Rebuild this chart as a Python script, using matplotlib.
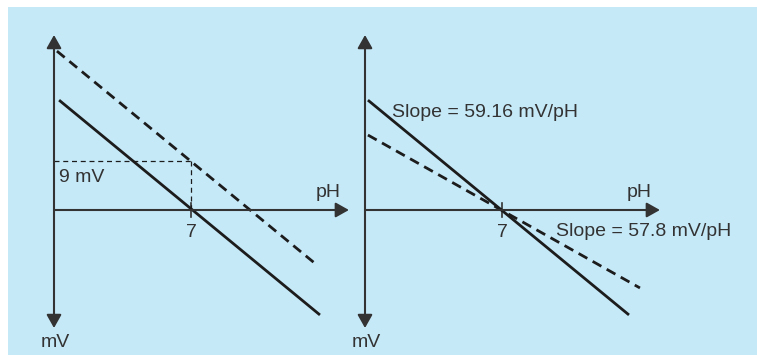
import matplotlib
matplotlib.use("Agg")
import matplotlib.pyplot as plt
from matplotlib.patches import Rectangle

plt.rcParams['font.family'] = ['Liberation Sans', 'DejaVu Sans']
fs = 14

# ---------------- data (schematic, pH vs mV) ----------------
ph_iso = 7.0                 # isopotential point / tick
axis_ph_end = 15.07          # end of pH arrow
axis_mv_top = 642            # top of mV arrow
axis_mv_bottom = -433        # bottom of mV arrow

# Left panel: offset (asymmetry) of 9 mV
left_ph = [0.26, 13.59]
left_solid_mv = [403, -385]
left_dash_ph = [0.15, 13.44]
left_dash_mv = [583, -202]
offset_mv = 180              # schematic height of the offset marker
offset_label = "9 mV"

# Right panel: slope change
right_solid_ph = [0.15, 13.49]
right_solid_mv = [403, -385]
right_dash_ph = [0.15, 14.05]
right_dash_mv = [275, -286]
slope_labels = ["Slope = 59.16 mV/pH", "Slope = 57.8 mV/pH"]

xlim = (-0.8, 15.5)
ylim = (-520, 680)

W, H = 757, 356
fig = plt.figure(figsize=(W / 100, H / 100), dpi=100)
fig.patch.set_facecolor('white')
bg = '#c6e9f8'
fig.patches.append(Rectangle((8 / W, 1 / H), (W - 8) / W, (349 - 1) / H,
                             transform=fig.transFigure, facecolor=bg,
                             edgecolor='none', zorder=-10))

px_per_ph = 19.57
px_per_mv = 0.2726
ax_w = (xlim[1] - xlim[0]) * px_per_ph
ax_h = (ylim[1] - ylim[0]) * px_per_mv
ax_bottom_px = H - (210 + (-ylim[0]) * px_per_mv)

axis_col = '#333333'
line_col = '#1c1c1c'
txt_col = '#333333'


def make_axes(x0_px):
    left_px = x0_px - (0 - xlim[0]) * px_per_ph
    ax = fig.add_axes([left_px / W, ax_bottom_px / H, ax_w / W, ax_h / H])
    ax.set_xlim(*xlim)
    ax.set_ylim(*ylim)
    ax.axis('off')
    ax.patch.set_alpha(0)
    # mV axis with arrows at both ends
    ax.annotate('', xy=(0, axis_mv_top), xytext=(0, axis_mv_bottom),
                arrowprops=dict(arrowstyle='<|-|>,head_length=0.8,head_width=0.45',
                                color=axis_col, lw=1.5, shrinkA=0, shrinkB=0,
                                mutation_scale=10))
    # pH axis
    ax.annotate('', xy=(axis_ph_end, 0), xytext=(0, 0),
                arrowprops=dict(arrowstyle='-|>,head_length=0.8,head_width=0.45',
                                color=axis_col, lw=1.5, shrinkA=0, shrinkB=0,
                                mutation_scale=10))
    ax.plot([ph_iso, ph_iso], [-26, 26], color=axis_col, lw=1.2)
    ax.text(14.0, 48, 'pH', ha='center', va='baseline', fontsize=fs, color=txt_col)
    ax.text(ph_iso, -50, '7', ha='center', va='top', fontsize=fs, color=txt_col)
    ax.text(0.08, -503, 'mV', ha='center', va='baseline', fontsize=fs, color=txt_col)
    return ax


axL = make_axes(54)
axR = make_axes(365)

# Left panel
axL.plot([0, ph_iso], [offset_mv, offset_mv], color=line_col, lw=0.9,
         dashes=(4, 3))
axL.plot([ph_iso, ph_iso], [offset_mv, 0], color=line_col, lw=0.9,
         dashes=(4, 3))
axL.plot(left_ph, left_solid_mv, color=line_col, lw=2.0, solid_capstyle='butt')
axL.plot(left_dash_ph, left_dash_mv, color=line_col, lw=2.0, dashes=(3.6, 2.2))
axL.text(0.26, 103, offset_label, ha='left', va='baseline', fontsize=fs,
         color=txt_col)

# Right panel
axR.plot(right_solid_ph, right_solid_mv, color=line_col, lw=2.0,
         solid_capstyle='butt')
axR.plot(right_dash_ph, right_dash_mv, color=line_col, lw=2.0, dashes=(3.6, 2.2))
axR.text(1.38, 342, slope_labels[0], ha='left', va='baseline', fontsize=fs,
         color=txt_col)
axR.text(9.76, -95, slope_labels[1], ha='left', va='baseline', fontsize=fs,
         color=txt_col)

fig.savefig('out.png', dpi=100, facecolor=fig.get_facecolor())
